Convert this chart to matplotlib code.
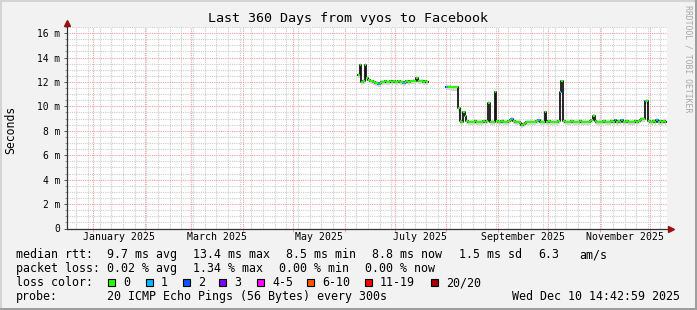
import matplotlib
matplotlib.use("Agg")
import matplotlib.pyplot as plt
import matplotlib.dates as mdates
from matplotlib.patches import Rectangle
from matplotlib.ticker import MultipleLocator, FuncFormatter
import numpy as np
import pandas as pd

W, H = 697, 310
MONO = "DejaVu Sans Mono"

# median rtt in ms, one value per day
seg1_start = "2025-06-09"
seg1_rtt = [12.6, 13.4, 12.0, 12.1, 13.4, 12.3, 12.2, 12.1, 12.05, 12.0,
            11.95, 11.9, 11.85, 11.95, 12.0, 12.0, 12.05, 12.0, 12.0, 12.05,
            12.0, 12.05, 12.0, 12.0, 12.05, 12.0, 12.0, 11.95, 12.0, 12.05,
            12.0, 12.05, 12.05, 12.1, 12.1, 12.3, 12.1, 12.05, 12.1, 12.0,
            12.05, 12.0]
seg1_loss1 = [12, 27]  # days with 1 of 20 pings lost

seg2_start = "2025-08-01"
seg2_rtt = [11.6, 11.6, 11.6, 11.55, 11.55, 11.55, 11.55, 9.85, 8.8, 8.75,
            9.5, 9.2, 8.8, 8.75, 8.7, 8.75, 8.75, 8.8, 8.75, 8.7,
            8.75, 8.75, 8.8, 8.75, 8.8, 10.3, 8.75, 8.7, 8.75, 11.15,
            8.8, 8.75, 8.75, 8.8, 8.75, 8.7, 8.75, 8.8, 8.85, 8.95,
            8.8, 8.75, 8.75, 8.7, 8.6, 8.5, 8.55, 8.65, 8.7, 8.7,
            8.75, 8.7, 8.75, 8.75, 8.8, 8.85, 8.75, 8.7, 8.75, 9.5,
            8.75, 8.8, 8.75, 8.75, 8.7, 8.75, 8.75, 8.8, 11.2, 12.05,
            8.8, 8.75, 8.75, 8.7, 8.75, 8.8, 8.75, 8.75, 8.7, 8.75,
            8.8, 8.75, 8.75, 8.7, 8.75, 8.75, 8.8, 8.85, 9.2, 8.8,
            8.75, 8.75, 8.7, 8.75, 8.8, 8.75, 8.7, 8.75, 8.75, 8.8,
            8.75, 8.85, 8.75, 8.8, 8.75, 8.85, 8.75, 8.75, 8.8, 8.75,
            8.7, 8.75, 8.75, 8.8, 8.75, 8.8, 8.9, 9.0, 8.95, 10.4,
            10.47, 8.8, 8.75, 8.75, 8.8, 8.75, 8.9, 8.75, 8.8, 8.75,
            8.8, 8.75]
seg2_loss1 = [0, 39, 55, 68, 101, 105, 119, 126]

x_start = pd.Timestamp("2024-12-16 12:00")
x_end = pd.Timestamp("2025-12-11 12:00")
label_months = ["2025-01", "2025-03", "2025-05", "2025-07", "2025-09", "2025-11"]
label_texts = ["January 2025", "March 2025", "May 2025", "July 2025",
               "September 2025", "November 2025"]

loss_names = ["0", "1", "2", "3", "4-5", "6-10", "11-19", "20/20"]
loss_colors = ["#26ff00", "#00b8ff", "#0059ff", "#7e00ff", "#ff00ff",
               "#ff5500", "#ff0000", "#a10000"]

rtt_items = [("median rtt:", 16), ("9.7 ms avg", 107), ("13.4 ms max", 193),
             ("8.5 ms min", 286), ("8.8 ms now", 372), ("1.5 ms sd", 459),
             ("6.3", 538), ("am/s", 579)]
loss_items = [("packet loss:", 16), ("0.02 % avg", 107), ("1.34 % max", 193),
              ("0.00 % min", 279), ("0.00 % now", 365)]
box_x = [108, 146, 183, 219, 257, 307, 365, 431]


def fx(x):
    return x / W


def fy(y):
    return 1 - y / H


def draw_segment(ax, start, rtt, loss1_days):
    t = mdates.date2num(pd.date_range(start, periods=len(rtt) + 1, freq="D").to_pydatetime())
    v = np.array(rtt + [rtt[-1]])
    ax.fill_between(t, v - 0.25, v + 0.15, step="post", color="#d6d6d6", lw=0, zorder=2)
    ax.step(t, v, where="post", color="#151515", lw=1.3, zorder=3)
    cols = [loss_colors[1] if i in loss1_days else loss_colors[0] for i in range(len(rtt))]
    ax.hlines(rtt, t[:-1], t[1:], colors=cols, lw=1.5, zorder=4)


fig = plt.figure(figsize=(W / 100, H / 100), dpi=100, facecolor="#f2f2f2")

# frame shading
fig.add_artist(Rectangle((0, 1 - 2 / H), 1, 2 / H, transform=fig.transFigure, color="#d4d4d4", lw=0))
fig.add_artist(Rectangle((0, 0), 2 / W, 1, transform=fig.transFigure, color="#d4d4d4", lw=0))
fig.add_artist(Rectangle((0, 0), 1, 2 / H, transform=fig.transFigure, color="#9e9e9e", lw=0))
fig.add_artist(Rectangle((1 - 2 / W, 0), 2 / W, 1, transform=fig.transFigure, color="#9e9e9e", lw=0))

ax = fig.add_axes([fx(67), fy(228.5), fx(600), 201.5 / H])
ax.set_facecolor("white")
ax.set_xlim(mdates.date2num(x_start), mdates.date2num(x_end))
ax.set_ylim(0, 16.5)

draw_segment(ax, seg1_start, seg1_rtt, seg1_loss1)
draw_segment(ax, seg2_start, seg2_rtt, seg2_loss1)

# grid
ax.yaxis.set_major_locator(MultipleLocator(2))
ax.yaxis.set_minor_locator(MultipleLocator(0.5))
ax.yaxis.set_major_formatter(FuncFormatter(lambda v, p: "0" if v == 0 else f"{v:.0f} m"))
ax.xaxis.set_major_locator(mdates.MonthLocator())
ax.xaxis.set_minor_locator(mdates.WeekdayLocator(byweekday=mdates.SU))
ax.xaxis.set_major_formatter(FuncFormatter(lambda v, p: ""))
ax.grid(which="minor", color="#cccccc", lw=0.8, ls=(0, (1, 1)), zorder=0)
ax.grid(which="major", color="#f2a0a0", lw=0.8, ls=(0, (1, 1)), zorder=1)
ax.set_axisbelow(True)

ax.tick_params(axis="y", which="major", length=2.5, width=0.7, color="#555555",
               labelsize=6.9, pad=2.5)
ax.tick_params(axis="y", which="minor", length=1.5, width=0.6, color="#888888")
ax.tick_params(axis="x", which="major", length=2.2, width=0.7, color="#f2a0a0")
ax.tick_params(axis="x", which="minor", length=0)
for lab in ax.get_yticklabels():
    lab.set_family(MONO)

for s in ["top", "right"]:
    ax.spines[s].set_visible(False)
for s in ["left", "bottom"]:
    ax.spines[s].set_color("#333333")
    ax.spines[s].set_linewidth(0.9)
ax.spines["left"].set_bounds(0, 16.6)
ax.plot([0], [1.02], marker="^", ms=4, color="#991111", transform=ax.transAxes, clip_on=False)
ax.plot([1.006], [0], marker=">", ms=4, color="#991111", transform=ax.transAxes, clip_on=False)

# month labels, centred within each month
for m, txt in zip(label_months, label_texts):
    m0 = pd.Timestamp(m + "-01")
    mid = m0 + (m0 + pd.offsets.MonthBegin(1) - m0) / 2
    ax.text(mdates.date2num(mid), -8 / 201.5, txt, transform=ax.get_xaxis_transform(),
            ha="center", va="center", fontsize=7.1, family=MONO)

fig.text(fx(348), fy(18.5), "Last 360 Days from vyos to Facebook", ha="center", va="center",
         fontsize=9.6, family=MONO)
fig.text(fx(11), fy(130), "Seconds", rotation=90, ha="center", va="center",
         fontsize=8.3, family=MONO)
fig.text(fx(688), fy(5), "RRDTOOL / TOBI OETIKER", rotation=270, ha="center", va="top",
         fontsize=5.9, family=MONO, color="#a8a8a8")

# legend
for s, x in rtt_items:
    fig.text(fx(x), fy(254.5), s, ha="left", va="center", fontsize=8.4, family=MONO)
for s, x in loss_items:
    fig.text(fx(x), fy(268.5), s, ha="left", va="center", fontsize=8.4, family=MONO)
fig.text(fx(16), fy(282.5), "loss color:", ha="left", va="center", fontsize=8.4, family=MONO)
for name, col, x in zip(loss_names, loss_colors, box_x):
    fig.add_artist(Rectangle((fx(x), fy(286)), 7 / W, 7 / H, transform=fig.transFigure,
                             facecolor=col, edgecolor="black", lw=0.8))
    fig.text(fx(x + 15), fy(282.5), name, ha="left", va="center", fontsize=8.4, family=MONO)
fig.text(fx(16), fy(296.5), "probe:", ha="left", va="center", fontsize=8.4, family=MONO)
fig.text(fx(107), fy(296.5), "20 ICMP Echo Pings (56 Bytes) every 300s", ha="left",
         va="center", fontsize=8.4, family=MONO)
fig.text(fx(680), fy(296.5), "Wed Dec 10 14:42:59 2025", ha="right", va="center",
         fontsize=8.4, family=MONO)

fig.savefig("out.png", dpi=100, facecolor=fig.get_facecolor())
